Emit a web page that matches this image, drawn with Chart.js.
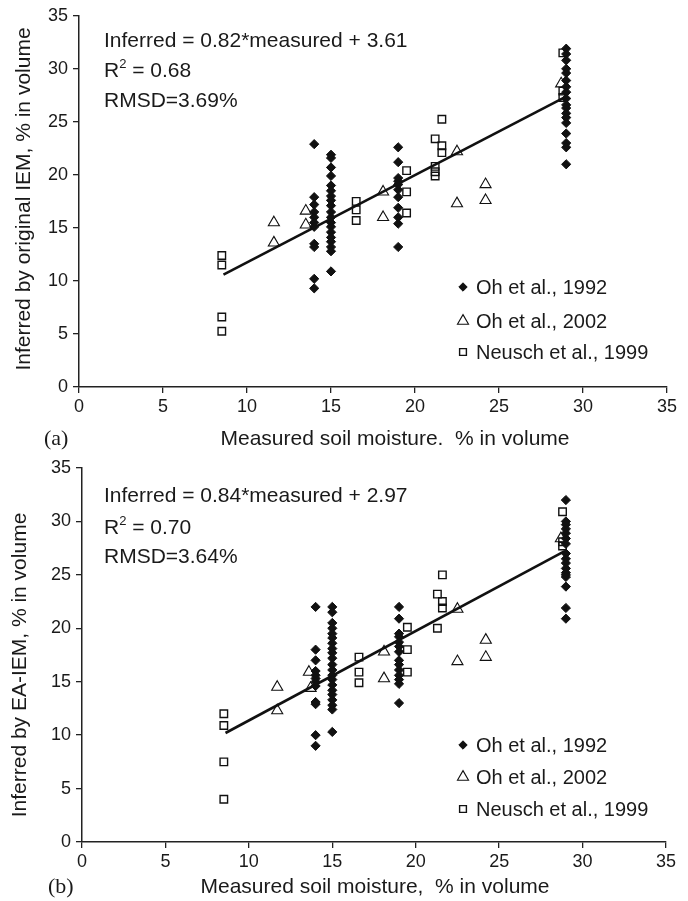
<!DOCTYPE html>
<html>
<head>
<meta charset="utf-8">
<script src="https://cdn.jsdelivr.net/npm/chart.js@4.4.1/dist/chart.umd.min.js"></script>
<style>
  html, body { margin: 0; padding: 0; background: #fff; }
  .panel { position: relative; width: 688px; }
  #panelA { height: 450px; }
  #panelB { height: 451px; }
</style>
</head>
<body>
<div class="panel" id="panelA"><canvas id="chartA" width="688" height="450"></canvas></div>
<div class="panel" id="panelB"><canvas id="chartB" width="688" height="451"></canvas></div>
<script>
// ---- panel (a): original IEM ----
const ohA1992X = [
  14, 14, 14, 14, 14, 14, 14, 14, 14, 14, 14,
  15, 15, 15, 15, 15, 15, 15, 15, 15, 15, 15, 15, 15, 15, 15, 15, 15, 15, 15,
  19, 19, 19, 19, 19, 19, 19, 19, 19, 19, 19,
  29, 29, 29, 29, 29, 29, 29, 29, 29, 29, 29, 29, 29, 29, 29, 29, 29, 29
];
const ohA1992Y = [
  22.9, 17.9, 17.2, 16.5, 16.0, 15.5, 15.1, 13.5, 13.2, 10.2, 9.3,
  21.9, 21.6, 20.7, 19.9, 19.0, 18.5, 18.0, 17.6, 17.1, 16.5, 16.0, 15.5, 15.1, 14.6, 14.1, 13.7, 13.2, 12.8, 10.9,
  22.6, 21.2, 19.7, 19.4, 19.1, 18.6, 17.9, 16.9, 16.0, 15.4, 13.2,
  31.9, 31.4, 30.8, 30.0, 29.6, 28.9, 28.3, 27.8, 27.2, 26.6, 26.3, 25.8, 25.4, 24.9, 23.9, 23.0, 22.6, 21.0
];
const ohA2002X = [11.6, 11.6, 13.5, 13.5, 18.1, 18.1, 22.5, 22.5, 24.2, 24.2, 28.7];
const ohA2002Y = [15.5, 13.6, 16.6, 15.3, 18.4, 16.0, 22.2, 17.3, 19.1, 17.6, 28.6];
const neuschAX = [8.5, 8.5, 8.5, 8.5, 16.5, 16.5, 16.5, 19.5, 19.5, 19.5, 21.2, 21.2, 21.2, 21.2, 21.6, 21.6, 21.6, 28.8, 28.8, 28.8];
const neuschAY = [12.4, 11.5, 6.6, 5.25, 17.5, 16.7, 15.7, 20.4, 18.4, 16.4, 23.4, 20.8, 20.3, 19.9, 25.25, 22.75, 22.1, 31.5, 27.9, 27.3];
const fitAX = [8.6, 28.9];
const fitAY = [10.6, 27.3];

// ---- panel (b): EA-IEM ----
const ohB1992X = [
  14, 14, 14, 14, 14, 14, 14, 14, 14, 14, 14, 14,
  15, 15, 15, 15, 15, 15, 15, 15, 15, 15, 15, 15, 15, 15, 15, 15, 15, 15, 15, 15, 15,
  19, 19, 19, 19, 19, 19, 19, 19, 19, 19, 19, 19, 19, 19,
  29, 29, 29, 29, 29, 29, 29, 29, 29, 29, 29, 29, 29, 29, 29, 29, 29
];
const ohB1992Y = [
  22.0, 18.0, 17.0, 16.0, 15.6, 15.3, 15.0, 14.6, 13.1, 12.9, 10.0, 9.0,
  22.0, 21.5, 20.5, 20.0, 19.5, 19.1, 18.6, 18.1, 17.7, 17.2, 16.6, 16.1, 15.6, 15.2, 14.7, 14.2, 13.8, 13.3, 12.8, 12.4, 10.3,
  22.0, 20.9, 19.5, 19.2, 18.7, 18.3, 17.8, 17.0, 16.6, 16.1, 15.6, 15.2, 14.8, 13.0,
  32.0, 30.0, 29.7, 29.3, 28.9, 28.4, 27.9, 27.0, 26.5, 26.1, 25.6, 25.2, 25.0, 24.8, 23.9, 21.9, 20.9
];
const ohB2002X = [11.7, 11.7, 13.6, 13.7, 18.1, 18.1, 22.5, 22.5, 24.2, 24.2, 28.7];
const ohB2002Y = [14.5, 12.3, 15.9, 14.4, 17.8, 15.3, 21.8, 16.9, 18.9, 17.3, 28.4];
const neuschBX = [8.5, 8.5, 8.5, 8.5, 16.6, 16.6, 16.6, 19.5, 19.5, 19.5, 21.3, 21.3, 21.6, 21.6, 21.6, 28.8, 28.8, 28.8];
const neuschBY = [12.0, 10.9, 7.5, 4.0, 17.3, 15.9, 14.9, 20.1, 18.0, 15.9, 23.2, 20.0, 25.0, 22.5, 21.9, 30.9, 28.1, 27.7];
const fitBX = [8.6, 28.9];
const fitBY = [10.2, 27.2];

const axisTicks = [0, 5, 10, 15, 20, 25, 30, 35];
const legendLabels = ['Oh et al., 1992', 'Oh et al., 2002', 'Neusch et al., 1999'];

const INK = '#1a1a1a';
const SANS = '"Liberation Sans", Arial, sans-serif';

function toPoints(xs, ys) {
    return xs.map((x, i) => ({ x: x, y: ys[i] }));
}

// texts, legend and axis titles drawn over the chart
const overlayPlugin = {
    id: 'overlay',
    afterDraw(chart, args, opts) {
        const ctx = chart.ctx;
        ctx.save();
        ctx.fillStyle = INK;
        ctx.textBaseline = 'alphabetic';
        ctx.textAlign = 'left';

        // equation block
        ctx.font = '21px ' + SANS;
        ctx.fillText(opts.equation, 104, opts.eqY[0]);
        ctx.fillText('R', 104, opts.eqY[1]);
        let rw = ctx.measureText('R').width;
        ctx.font = '13px ' + SANS;
        ctx.fillText('2', 104 + rw, opts.eqY[1] - 9);
        let sw = ctx.measureText('2').width;
        ctx.font = '21px ' + SANS;
        ctx.fillText(' = ' + opts.r2, 104 + rw + sw, opts.eqY[1]);
        ctx.fillText(opts.rmsd, 104, opts.eqY[2]);

        // legend (marker style taken from each dataset)
        const ds = chart.data.datasets;
        legendLabels.forEach((label, i) => {
            const y = opts.legendY[i];
            const d = ds[i];
            ctx.fillStyle = d.backgroundColor;
            ctx.strokeStyle = d.borderColor;
            ctx.lineWidth = d.borderWidth;
            Chart.helpers.drawPoint(ctx, {
                pointStyle: d.pointStyle,
                radius: d.legendRadius,
                borderWidth: d.borderWidth
            }, 463, y);
            ctx.fillStyle = INK;
            ctx.font = '20px ' + SANS;
            ctx.textBaseline = 'middle';
            ctx.fillText(label, 476, y + 1);
            ctx.textBaseline = 'alphabetic';
        });

        // x axis title and panel letter
        ctx.fillStyle = INK;
        ctx.font = '21px ' + SANS;
        ctx.textAlign = 'center';
        ctx.fillText(opts.xTitle, opts.xTitleX, opts.xTitleY);
        ctx.textAlign = 'left';
        ctx.font = '22px "Liberation Serif", "Times New Roman", serif';
        ctx.fillText(opts.letter, opts.letterX, opts.xTitleY);

        // y axis title
        ctx.translate(opts.yTitleX, opts.yTitleY);
        ctx.rotate(-Math.PI / 2);
        ctx.font = '21px ' + SANS;
        ctx.textAlign = 'center';
        ctx.textBaseline = 'middle';
        ctx.fillText(opts.yTitle, 0, 0);
        ctx.restore();
    }
};

function makeChart(id, sets, layout, overlay) {
    const scaleBase = {
        type: 'linear',
        min: 0,
        max: 35,
        border: { display: true, color: '#222', width: 1.5 },
        grid: { display: true, drawOnChartArea: false, drawTicks: true, tickLength: 6, color: '#222', lineWidth: 1.3 },
    };
    return new Chart(document.getElementById(id).getContext('2d'), {
        type: 'scatter',
        data: {
            datasets: [
                {
                    label: legendLabels[0],
                    data: toPoints(sets.ohX, sets.ohY),
                    pointStyle: 'rectRot',
                    pointRadius: 4.6,
                    legendRadius: 4.2,
                    backgroundColor: '#111',
                    borderColor: '#111',
                    borderWidth: 1
                },
                {
                    label: legendLabels[1],
                    data: toPoints(sets.oh2X, sets.oh2Y),
                    pointStyle: 'triangle',
                    pointRadius: 6.4,
                    legendRadius: 6.4,
                    backgroundColor: 'rgba(255,255,255,0)',
                    borderColor: '#111',
                    borderWidth: 1.1
                },
                {
                    label: legendLabels[2],
                    data: toPoints(sets.neX, sets.neY),
                    pointStyle: 'rect',
                    pointRadius: 5.3,
                    legendRadius: 4.8,
                    backgroundColor: 'rgba(255,255,255,0)',
                    borderColor: '#111',
                    borderWidth: 1.4
                },
                {
                    label: 'fit',
                    data: toPoints(sets.fitX, sets.fitY),
                    showLine: true,
                    pointRadius: 0,
                    borderColor: '#111',
                    borderWidth: 2.6,
                    order: 5
                }
            ]
        },
        options: {
            responsive: false,
            animation: false,
            layout: { padding: layout.padding },
            plugins: {
                legend: { display: false },
                tooltip: { enabled: false },
                overlay: overlay
            },
            scales: {
                x: Object.assign({}, scaleBase, {
                    position: 'bottom',
                    afterBuildTicks: (s) => { s.ticks = axisTicks.map(v => ({ value: v })); },
                    ticks: { color: INK, font: { family: SANS, size: 18 }, padding: 3, maxRotation: 0 },
                    afterFit: (s) => { s.height = layout.xHeight; }
                }),
                y: Object.assign({}, scaleBase, {
                    position: 'left',
                    afterBuildTicks: (s) => { s.ticks = axisTicks.map(v => ({ value: v })); },
                    ticks: { color: INK, font: { family: SANS, size: 18 }, padding: 5 },
                    afterFit: (s) => { s.width = layout.yWidth; }
                })
            }
        },
        plugins: [overlayPlugin]
    });
}

makeChart('chartA',
    { ohX: ohA1992X, ohY: ohA1992Y, oh2X: ohA2002X, oh2Y: ohA2002Y, neX: neuschAX, neY: neuschAY, fitX: fitAX, fitY: fitAY },
    { padding: { left: 0, top: 13, right: 21, bottom: 0 }, yWidth: 79, xHeight: 63 },
    {
        equation: 'Inferred = 0.82*measured + 3.61', r2: '0.68', rmsd: 'RMSD=3.69%',
        eqY: [47, 77, 107], legendY: [287, 321, 352],
        xTitle: 'Measured soil moisture.  % in volume', xTitleX: 395, xTitleY: 445,
        letter: '(a)', letterX: 44,
        yTitle: 'Inferred by original IEM, % in volume', yTitleX: 24, yTitleY: 199
    });

makeChart('chartB',
    { ohX: ohB1992X, ohY: ohB1992Y, oh2X: ohB2002X, oh2Y: ohB2002Y, neX: neuschBX, neY: neuschBY, fitX: fitBX, fitY: fitBY },
    { padding: { left: 0, top: 18, right: 22, bottom: 0 }, yWidth: 82, xHeight: 59 },
    {
        equation: 'Inferred = 0.84*measured + 2.97', r2: '0.70', rmsd: 'RMSD=3.64%',
        eqY: [52, 84, 113], legendY: [295, 327, 359],
        xTitle: 'Measured soil moisture,  % in volume', xTitleX: 375, xTitleY: 443,
        letter: '(b)', letterX: 48,
        yTitle: 'Inferred by EA-IEM, % in volume', yTitleX: 20, yTitleY: 215
    });
</script>
</body>
</html>
